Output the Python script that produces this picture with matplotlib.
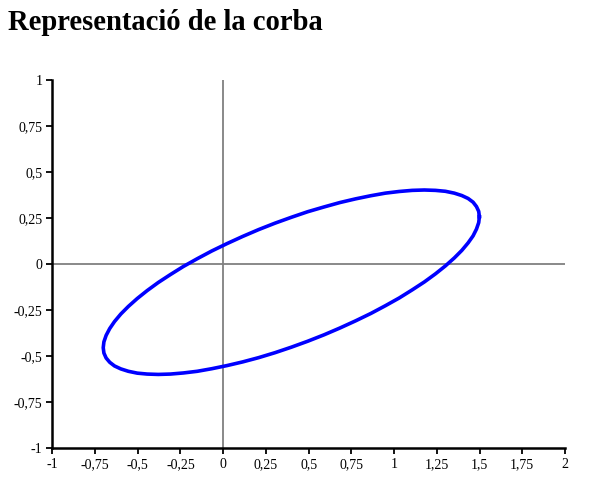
import matplotlib
matplotlib.use("Agg")
from matplotlib import pyplot as plt

# curve points
x_vals = [1.499, 1.495, 1.482, 1.462, 1.433, 1.396, 1.352, 1.300, 1.242, 1.177,
          1.106, 1.030, 0.949, 0.864, 0.775, 0.683, 0.590, 0.494, 0.399, 0.303,
          0.207, 0.114, 0.022, -0.067, -0.152, -0.233, -0.309, -0.380, -0.445,
          -0.503, -0.555, -0.599, -0.636, -0.664, -0.685, -0.698, -0.702,
          -0.698, -0.685, -0.664, -0.636, -0.599, -0.555, -0.503, -0.445,
          -0.380, -0.309, -0.233, -0.152, -0.067, 0.022, 0.114, 0.207, 0.303,
          0.399, 0.494, 0.590, 0.683, 0.775, 0.864, 0.949, 1.030, 1.106, 1.177,
          1.242, 1.300, 1.352, 1.396, 1.433, 1.462, 1.482, 1.495, 1.499]
y_vals = [0.258, 0.287, 0.313, 0.337, 0.357, 0.373, 0.386, 0.396, 0.401, 0.403,
          0.401, 0.395, 0.386, 0.372, 0.355, 0.335, 0.311, 0.285, 0.255, 0.223,
          0.188, 0.151, 0.112, 0.072, 0.030, -0.012, -0.056, -0.099, -0.143,
          -0.186, -0.229, -0.270, -0.311, -0.349, -0.386, -0.421, -0.453,
          -0.482, -0.509, -0.532, -0.552, -0.568, -0.581, -0.591, -0.596,
          -0.598, -0.596, -0.590, -0.581, -0.567, -0.550, -0.530, -0.507,
          -0.480, -0.450, -0.418, -0.383, -0.346, -0.307, -0.267, -0.225,
          -0.183, -0.139, -0.096, -0.052, -0.009, 0.034, 0.075, 0.116, 0.154,
          0.191, 0.226, 0.258]

x_ticks = [-1, -0.75, -0.5, -0.25, 0, 0.25, 0.5, 0.75, 1, 1.25, 1.5, 1.75, 2]
x_labels = ["-1", "-0,75", "-0,5", "-0,25", "0", "0,25", "0,5", "0,75", "1",
            "1,25", "1,5", "1,75", "2"]
y_ticks = [-1, -0.75, -0.5, -0.25, 0, 0.25, 0.5, 0.75, 1]
y_labels = ["-1", "-0,75", "-0,5", "-0,25", "0", "0,25", "0,5", "0,75", "1"]

plt.rcParams['font.family'] = ['Liberation Serif', 'DejaVu Serif']

fig = plt.figure(figsize=(5.95, 5.01), dpi=100)
ax = fig.add_axes([0.0879, 0.1048, 0.8617, 0.7355])

fig.text(8 / 595, 0.941, "Representació de la corba", fontsize=20.6,
         fontweight='bold', ha='left', va='baseline')

# zero lines
ax.axhline(0, color='#808080', lw=1.3, zorder=1)
ax.axvline(0, color='#808080', lw=1.3, zorder=1)

ax.plot(x_vals, y_vals, color='#0000ff', lw=2.6, solid_joinstyle='round', zorder=3)

ax.set_xlim(-1, 2)
ax.set_ylim(-1, 1)
ax.set_xticks(x_ticks, x_labels)
ax.set_yticks(y_ticks, y_labels)
ax.tick_params(direction='out', length=4, width=1.3, labelsize=10, colors='black', pad=3)

for side in ['top', 'right']:
    ax.spines[side].set_visible(False)
for side in ['left', 'bottom']:
    ax.spines[side].set_linewidth(1.8)
    ax.spines[side].set_color('black')

fig.savefig("out.png", dpi=100)
